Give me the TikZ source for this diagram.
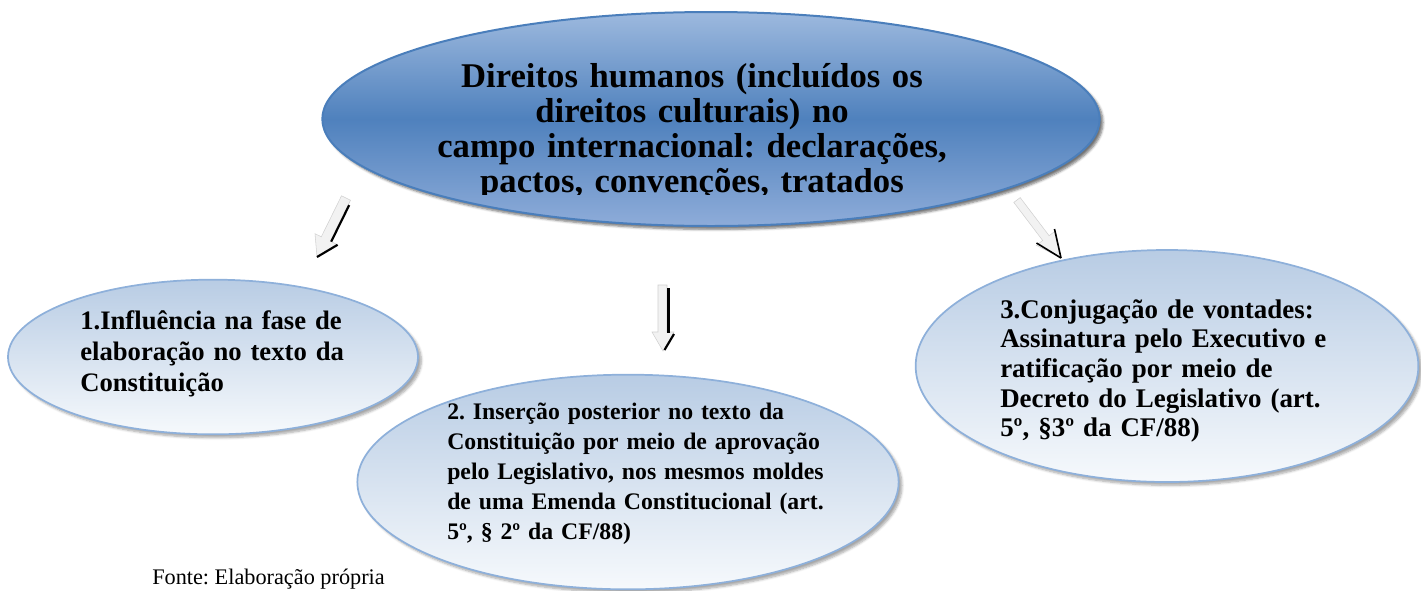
\documentclass[tikz,border=0pt]{standalone}
\usepackage{fontspec}
\setmainfont{Liberation Serif}
\usetikzlibrary{shapes.geometric,shadows.blur}
\frenchspacing
\definecolor{mainTop}{HTML}{9DB9DE}
\definecolor{mainMid}{HTML}{4F81BD}
\definecolor{mainBot}{HTML}{8EACD9}
\definecolor{mainLine}{HTML}{4A7EBB}
\definecolor{subTop}{HTML}{B8CCE4}
\definecolor{subBot}{HTML}{F6F9FC}
\definecolor{subLine}{HTML}{8EB0DA}
\definecolor{arrowFill}{HTML}{F2F2F2}
\definecolor{arrowEdge}{HTML}{D0D0D0}
\tikzset{
  mainell/.style={ellipse, draw=mainLine, line width=1.5pt,
    top color=mainTop, bottom color=mainBot, middle color=mainMid,
    blur shadow={shadow xshift=2.5pt, shadow yshift=-2.5pt, shadow opacity=55, shadow blur steps=5}},
  subell/.style={ellipse, draw=subLine, line width=1.3pt,
    top color=subTop, bottom color=subBot,
    blur shadow={shadow xshift=2.5pt, shadow yshift=-2.5pt, shadow opacity=35, shadow blur steps=6}},
  boldtext/.style={inner sep=0pt, align=left, font=\bfseries},
  arrowbody/.style={fill=arrowFill, draw=arrowEdge, line width=0.4pt},
  arrowshade/.style={draw=black, line width=1.6pt}
}
\begin{document}
\begin{tikzpicture}[x=0.75pt,y=-0.75pt]
\useasboundingbox (0,0) rectangle (1421,590);

% ellipses
\node[subell, minimum width=307.5pt, minimum height=116pt] (e1) at (213,357) {};
\node[subell, minimum width=377pt, minimum height=174pt] (e3) at (1167,366) {};
\node[subell, minimum width=406pt, minimum height=161pt] (e2) at (628,482) {};
\node[mainell, minimum width=583pt, minimum height=160.5pt] (main) at (711,119) {};

% main text (clipped at bottom as in the original)
\begin{scope}
\clip (300,0) rectangle (1130,194);
\node[boldtext, align=center, text width=540pt, anchor=base, font=\bfseries\fontsize{26}{26.25}\selectfont] (maintext) at (692,87)
{Direitos humanos (incluídos os\\direitos culturais) no\\campo internacional: declarações,\\pactos, convenções, tratados};
\end{scope}

% sub texts
\node[boldtext, text width=230pt, anchor=base west, font=\bfseries\fontsize{20}{23.25}\selectfont] (t1) at (80,329)
{1.Influência na fase de\\elaboração no texto da\\Constituição};
\node[boldtext, text width=300pt, anchor=base west, font=\bfseries\fontsize{17.8}{22.5}\selectfont] (t2) at (447,419)
{2. Inserção posterior no texto da\\Constituição por meio de aprovação\\pelo Legislativo, nos mesmos moldes\\de uma Emenda Constitucional (art.\\5º, § 2º da CF/88)};
\node[boldtext, text width=280pt, anchor=base west, font=\bfseries\fontsize{20.2}{22.3}\selectfont] (t3) at (1000,318)
{3.Conjugação de vontades:\\Assinatura pelo Executivo e\\ratificação por meio de\\Decreto do Legislativo (art.\\5º, §3º da CF/88)};

\node[inner sep=0pt, anchor=base west, font=\fontsize{16.7}{20}\selectfont] (fonte) at (152,584) {Fonte: Elaboração própria};

% block arrows
% left arrow
\coordinate (la1) at (346,198);
\coordinate (la2) at (317,257);
\path[arrowbody] (350.5,200.2) -- (330.3,241.2) -- (336.6,244.3) -- (la2) -- (315.0,233.7) -- (321.3,236.8) -- (341.5,195.8) -- cycle;
\draw[arrowshade] (349.2,205.1) -- (331.2,241.6);
\draw[arrowshade] (337.6,244.8) -- (la2);
% middle arrow
\coordinate (ma1) at (662.5,285);
\coordinate (ma2) at (663,351);
\path[arrowbody] (658,285) -- (667,285) -- (667,332) -- (674,332) -- (ma2) -- (652,332) -- (658,332) -- cycle;
\draw[arrowshade] (668.5,288) -- (668.5,333);
\draw[arrowshade] (674,334) -- (664.5,350);
% right arrow
\coordinate (ra1) at (1017,200);
\coordinate (ra2) at (1061,258);
\path[arrowbody] (1020.2,197.6) -- (1049.1,235.7) -- (1055.5,230.9) -- (ra2) -- (1036.3,245.3) -- (1042.7,240.5) -- (1013.8,202.4) -- cycle;
\draw[arrowshade, line width=1.2pt] (1054.5,229) -- (ra2);
\draw[arrowshade, line width=1.2pt] (1036.5,243) -- (ra2);
\end{tikzpicture}
\end{document}
